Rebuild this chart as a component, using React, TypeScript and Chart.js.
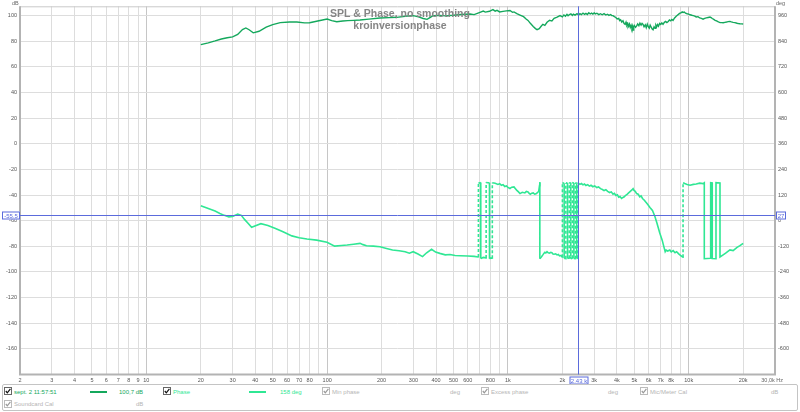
import React, { useEffect, useRef } from "react";
import { Chart, registerables } from "chart.js";

Chart.register(...registerables);

// ---------- DATA ----------
const splFreq = [
  20, 22, 24, 26, 28, 30, 32, 34, 35.5, 37,
  39, 42, 46, 50, 55, 62, 68, 75, 80, 90,
  100, 106, 113, 122, 130, 140, 152, 170, 196, 220,
  243, 270, 299, 320, 340, 357, 372, 385, 420, 450,
  500, 550, 617, 650, 700, 730, 750, 790, 826, 850,
  870, 900, 939, 980, 1026, 1060, 1080, 1120, 1166, 1220,
  1260, 1291, 1330, 1380, 1420, 1449, 1490, 1530, 1560, 1600,
  1645, 1700, 1750, 1800, 1870, 1941, 2000, 2040, 2080, 2120,
  2150, 2190, 2230, 2270, 2300, 2350, 2410, 2460, 2500, 2550,
  2600, 2650, 2700, 2750, 2800, 2850, 2900, 2950, 3000, 3050,
  3105, 3180, 3250, 3320, 3400, 3480, 3550, 3620, 3700, 3750,
  3811, 3880, 3950, 4020, 4100, 4150, 4200, 4260, 4328, 4390,
  4450, 4500, 4550, 4600, 4650, 4700, 4750, 4800, 4850, 4890,
  4922, 4960, 5000, 5080, 5150, 5220, 5300, 5370, 5450, 5520,
  5587, 5660, 5750, 5820, 5900, 5980, 6050, 6120, 6200, 6280,
  6350, 6430, 6507, 6580, 6650, 6720, 6800, 6900, 7000, 7100,
  7206, 7330, 7450, 7570, 7700, 7820, 7950, 8060, 8186, 8350,
  8500, 8650, 8800, 8950, 9100, 9200, 9300, 9450, 9600, 9800,
  10000, 10170, 10400, 10600, 10800, 11000, 11250, 11500, 11750, 12000,
  12250, 12500, 12800, 13100, 13300, 13500, 13750, 14000, 14250, 14500,
  14700, 14900, 15200, 15500, 15850, 16200, 16500, 16900, 17200, 17600,
  18000, 18500, 18800, 19200, 19600, 20000,
];
const splDb = [
  77.4, 78.8, 80.3, 81.8, 82.8, 83.4, 85.3, 89.2, 90.4, 89.0,
  86.6, 87.8, 91.0, 93.0, 94.6, 95.0, 95.1, 94.4, 94.5, 96.0,
  97.4, 96.1, 95.3, 95.8, 96.1, 96.3, 96.6, 97.3, 98.2, 98.5,
  98.7, 99.5, 100.0, 99.0, 97.8, 97.1, 98.6, 100.0, 100.2, 99.8,
  100.3, 100.9, 101.3, 100.8, 102.6, 103.6, 102.8, 103.4, 104.7, 103.5,
  104.1, 102.9, 103.3, 103.7, 104.0, 102.6, 102.9, 101.6, 100.5, 99.2,
  97.4, 96.3, 94.0, 91.6, 89.9, 89.1, 89.8, 91.9, 93.2, 92.4,
  94.8, 96.4, 95.8, 97.9, 98.8, 100.1, 99.0, 100.6, 99.6, 101.0,
  99.9, 100.9, 101.4, 100.2, 101.2, 100.4, 101.5, 100.5, 101.6, 100.8,
  102.0, 101.0, 101.8, 100.9, 102.3, 101.3, 102.0, 101.2, 102.1, 101.4,
  101.9, 100.8, 101.5, 100.7, 101.6, 100.5, 101.1, 100.2, 100.9, 100.1,
  100.0, 99.2, 98.6, 97.4, 97.8, 96.2, 96.8, 95.0, 96.0, 93.9,
  93.2, 94.9, 92.6, 93.8, 91.7, 93.4, 90.8, 92.5, 90.1, 91.8,
  88.8, 91.2, 92.4, 90.9, 92.0, 93.6, 92.1, 94.2, 92.6, 94.0,
  93.2, 91.4, 92.9, 90.6, 93.4, 91.2, 90.2, 92.6, 91.0, 89.6,
  89.0, 91.3, 90.2, 92.6, 91.4, 93.0, 91.8, 93.9, 93.1, 94.4,
  93.2, 94.8, 95.5, 94.6, 95.4, 96.6, 95.9, 97.0, 96.3, 98.2,
  99.4, 100.3, 101.2, 101.9, 102.4, 102.9, 102.5, 102.8, 101.9, 101.5,
  101.2, 100.7, 100.3, 100.0, 99.7, 99.0, 99.2, 98.2, 97.9, 97.3,
  97.9, 98.3, 98.6, 98.9, 98.4, 97.8, 97.1, 96.4, 95.9, 95.3,
  94.9, 94.7, 94.6, 94.5, 94.8, 95.0, 95.3, 95.5, 95.1, 94.8,
  94.6, 94.1, 93.9, 93.7, 93.6, 93.5,
];

const phaseFreq = [
  20, 22, 24, 25.5, 27, 28.6, 30, 32, 33.5, 35,
  36.5, 38.2, 40.5, 43, 47, 51.8, 57, 63.8, 70, 77.3,
  87.5, 99.8, 110, 120, 129, 140, 152, 158, 165, 180,
  196, 213, 230, 250, 270, 285, 299, 318, 337, 355,
  378, 398, 420, 450, 478, 510, 545, 600, 650, 686,
  686.5, 700, 707, 707.5, 730, 757, 757.5, 775, 790, 790.5,
  805, 819, 819.5, 850, 880, 900, 920, 940, 960, 980,
  1000, 1026, 1050, 1080, 1100, 1120, 1140, 1166, 1200, 1240,
  1265, 1291, 1310, 1330, 1355, 1380, 1405, 1430, 1455, 1480,
  1495, 1500, 1501, 1530, 1560, 1580, 1600, 1620, 1645, 1670,
  1700, 1725, 1750, 1775, 1800, 1835, 1870, 1900, 1930, 1965,
  2000, 2001, 2045, 2046, 2090, 2091, 2135, 2136, 2180, 2181,
  2225, 2226, 2270, 2271, 2315, 2316, 2360, 2361, 2400, 2401,
  2430, 2431, 2450, 2500, 2550, 2600, 2650, 2700, 2760, 2820,
  2880, 2950, 3020, 3100, 3170, 3250, 3330, 3400, 3480, 3560,
  3650, 3730, 3811, 3880, 3950, 4030, 4100, 4170, 4250, 4328,
  4400, 4480, 4560, 4650, 4750, 4850, 4922, 4980, 5060, 5150,
  5250, 5360, 5450, 5550, 5680, 5800, 5950, 6100, 6300, 6500,
  6680, 6900, 7130, 7300, 7410, 7500, 7650, 7860, 8000, 8200,
  8400, 8570, 8800, 9000, 9300, 9301, 9500, 9800, 10170, 10600,
  11000, 11500, 12000, 12190, 12191, 13220, 13221, 13490, 13491, 14150,
  14151, 14890, 14891, 15500, 16000, 16900, 17600, 18500, 19200, 20000,
];
const phaseDeg = [
  70, 57, 45, 34, 25, 18, 20, 31, 25, 5,
  -12, -31, -22, -14, -22, -36, -52, -71, -80, -86,
  -91, -101, -119, -116, -114, -110, -106, -112, -117, -119,
  -122, -130, -137, -141, -145, -152, -145, -156, -168, -150,
  -134, -147, -153, -160, -158, -163, -164, -165, -167, -170,
  178, 176, 179, -177, -172, -174, 179, 178, 178, -178,
  -174, -176, 178, 175, 170, 173, 166, 169, 160, 163,
  156, 151, 157, 158, 150, 142, 136, 127, 133, 130,
  137, 135, 128, 124, 129, 130, 124, 126, 131, 138,
  165, 180, -178, -170, -160, -153, -148, -151, -145, -150,
  -152, -148, -150, -156, -157, -155, -160, -158, -165, -163,
  -171, 178, 175, -176, -178, 177, 176, -177, -175, 178,
  177, -178, -176, 179, 176, -177, -178, 178, 175, -177,
  -176, 178, 176, 170, 174, 168, 172, 165, 169, 162,
  166, 159, 163, 155, 158, 150, 146, 141, 145, 137,
  132, 135, 124, 128, 118, 121, 110, 113, 104, 109,
  112, 119, 123, 130, 137, 144, 150, 142, 138, 127,
  124, 112, 116, 104, 96, 86, 75, 62, 48, 20,
  -13, -55, -91, -125, -145, -138, -142, -137, -146, -140,
  -150, -145, -155, -162, -171, 178, 174, 170, 166, 170,
  172, 176, 174, 178, -178, -176, 178, 177, -177, -178,
  178, 177, -170, -160, -152, -137, -140, -125, -117, -106,
];

const xTickValues = [
  2, 3, 4, 5, 6, 7, 8, 9, 10, 20, 30, 40, 50, 60, 70, 80, 90, 100,
  200, 300, 400, 500, 600, 700, 800, 900, 1000,
  2000, 3000, 4000, 5000, 6000, 7000, 8000, 9000, 10000, 20000, 30000,
];
const xTickLabels = [
  "2", "3", "4", "5", "6", "7", "8", "9", "10", "20", "30", "40", "50", "60", "70", "80", "", "100",
  "200", "300", "400", "500", "600", "", "800", "", "1k",
  "2k", "3k", "4k", "5k", "6k", "7k", "8k", "", "10k", "20k", "",
];
const dbTicks = [-180, -160, -140, -120, -100, -80, -60, -40, -20, 0, 20, 40, 60, 80, 100];
const degTicks = [-720, -600, -480, -360, -240, -120, 0, 120, 240, 360, 480, 600, 720, 840, 960];

const dbMin = -180;
const dbMax = 107.3;
const cursorFreq = 2430;
const cursorDb = -55.5;
const cursorLabelX = "2.43 k";
const cursorLabelLeft = "-55.5";
const cursorLabelRight = "27";

const SPL_COLOR = "#14a85c";
const PHASE_COLOR = "#2fe794";
const CURSOR_COLOR = "#5b6bdc";
const TICK_FONT = "5.5px 'Liberation Sans', Arial, sans-serif";

const overlayPlugin = {
  id: "rewOverlay",
  beforeDatasetsDraw(chart: any) {
    const { ctx, chartArea: a } = chart;
    ctx.save();
    ctx.strokeStyle = "#c9c9c9";
    ctx.lineWidth = 1;
    ctx.beginPath();
    ctx.moveTo(a.left, a.top + 0.5);
    ctx.lineTo(a.right, a.top + 0.5);
    ctx.stroke();
    ctx.strokeStyle = "#b3b3b3";
    ctx.lineWidth = 2;
    ctx.beginPath();
    ctx.moveTo(a.left, a.top);
    ctx.lineTo(a.left, a.bottom);
    ctx.lineTo(a.right, a.bottom);
    ctx.lineTo(a.right, a.top);
    ctx.stroke();
    ctx.restore();
  },
  afterDatasetsDraw(chart: any) {
    const { ctx, chartArea: a, scales } = chart;
    const cx = Math.round(scales.x.getPixelForValue(cursorFreq)) + 0.5;
    const cy = Math.round(scales.y.getPixelForValue(cursorDb)) + 0.5;
    ctx.save();
    ctx.strokeStyle = CURSOR_COLOR;
    ctx.lineWidth = 1;
    ctx.beginPath();
    ctx.moveTo(cx, a.top);
    ctx.lineTo(cx, a.bottom);
    ctx.moveTo(a.left, cy);
    ctx.lineTo(a.right, cy);
    ctx.stroke();

    const box = (x: number, y: number, w: number, h: number, text: string) => {
      ctx.fillStyle = "#ffffff";
      ctx.fillRect(x, y, w, h);
      ctx.strokeStyle = CURSOR_COLOR;
      ctx.lineWidth = 1;
      ctx.strokeRect(x + 0.5, y + 0.5, w - 1, h - 1);
      ctx.fillStyle = CURSOR_COLOR;
      ctx.font = "6px 'Liberation Sans', Arial, sans-serif";
      ctx.textAlign = "center";
      ctx.textBaseline = "middle";
      ctx.fillText(text, x + w / 2, y + h / 2 + 0.5);
    };
    box(2, cy - 4, 18, 8, cursorLabelLeft);
    box(a.right + 1, cy - 4, 10, 8, cursorLabelRight);
    box(cx - 9, a.bottom + 2, 19, 8, cursorLabelX);

    ctx.fillStyle = "#666666";
    ctx.font = TICK_FONT;
    ctx.textBaseline = "middle";
    ctx.textAlign = "left";
    ctx.fillText("dB", 12, 3);
    ctx.fillText("deg", 776, 3);
    ctx.textAlign = "right";
    ctx.fillText("30,0k Hz", 783, a.bottom + 6);
    ctx.restore();
  },
};

export default function App() {
  const canvasRef = useRef<HTMLCanvasElement | null>(null);

  useEffect(() => {
    const canvas = canvasRef.current;
    if (!canvas) return;
    const splData = splFreq.map((f, i) => ({ x: f, y: splDb[i] }));
    const phaseData = phaseFreq.map((f, i) => ({ x: f, y: phaseDeg[i] }));
    const decades = [10, 100, 1000, 10000];

    const chart = new Chart(canvas, {
      type: "line",
      data: {
        datasets: [
          {
            label: "SPL",
            data: splData,
            yAxisID: "y",
            borderColor: SPL_COLOR,
            borderWidth: 1.4,
            pointRadius: 0,
            tension: 0,
            fill: false,
          },
          {
            label: "Phase",
            data: phaseData,
            yAxisID: "y2",
            borderColor: PHASE_COLOR,
            borderWidth: 1.6,
            pointRadius: 0,
            tension: 0,
            fill: false,
            segment: {
              borderDash: (c: any) =>
                Math.abs(c.p0.parsed.y - c.p1.parsed.y) > 200 && c.p0.parsed.x < 11000 ? [3, 2] : undefined,
            },
          },
        ],
      },
      options: {
        animation: false,
        responsive: false,
        maintainAspectRatio: false,
        layout: { padding: { top: 5.3, left: 0, right: 0, bottom: 0 } },
        plugins: { legend: { display: false }, tooltip: { enabled: false }, title: { display: false } },
        scales: {
          x: {
            type: "logarithmic",
            min: 2,
            max: 30000,
            afterBuildTicks: (s: any) => {
              s.ticks = xTickValues.map((v) => ({ value: v }));
            },
            afterFit: (s: any) => {
              s.height = 412 - 374.5;
            },
            ticks: {
              autoSkip: false,
              maxRotation: 0,
              minRotation: 0,
              padding: 3,
              color: "#555555",
              font: { family: "'Liberation Sans', Arial, sans-serif", size: 5.5 },
              callback: (v: any) => {
                const i = xTickValues.indexOf(Number(v));
                return i >= 0 ? xTickLabels[i] : "";
              },
            },
            grid: {
              drawTicks: false,
              color: (c: any) => {
                const v = c.tick ? c.tick.value : 0;
                if (v === 2 || v === 30000) return "rgba(0,0,0,0)";
                return decades.includes(v) ? "#c6c6c6" : "#dddddd";
              },
              lineWidth: 1,
            },
            border: { display: false },
          },
          y: {
            type: "linear",
            position: "left",
            min: dbMin,
            max: dbMax,
            afterBuildTicks: (s: any) => {
              s.ticks = dbTicks.map((v) => ({ value: v }));
            },
            afterFit: (s: any) => {
              s.width = 20;
            },
            ticks: {
              padding: 3,
              color: "#555555",
              font: { family: "'Liberation Sans', Arial, sans-serif", size: 5.5 },
              callback: (v: any) => (Number(v) === dbMin ? "" : String(v)),
            },
            grid: {
              drawTicks: false,
              color: (c: any) => (c.tick && c.tick.value === dbMin ? "rgba(0,0,0,0)" : "#dddddd"),
            },
            border: { display: false },
          },
          y2: {
            type: "linear",
            position: "right",
            min: (dbMin + 60) * 6,
            max: (dbMax + 60) * 6,
            afterBuildTicks: (s: any) => {
              s.ticks = degTicks.map((v) => ({ value: v }));
            },
            afterFit: (s: any) => {
              s.width = 25;
            },
            ticks: {
              padding: 3,
              color: "#555555",
              font: { family: "'Liberation Sans', Arial, sans-serif", size: 5.5 },
              callback: (v: any) => (Number(v) === -720 ? "" : String(v)),
            },
            grid: { display: false, drawTicks: false },
            border: { display: false },
          },
        },
      },
      plugins: [overlayPlugin],
    } as any);

    return () => chart.destroy();
  }, []);

  const font = "'Liberation Sans', Arial, sans-serif";
  const cb = (x: number, y: number, active: boolean) => (
    <svg
      style={{ position: "absolute", left: x, top: y }}
      width={8}
      height={8}
      viewBox="0 0 8 8"
    >
      <rect x={0.5} y={0.5} width={7} height={7} fill="#fff" stroke={active ? "#666" : "#bbb"} />
      <polyline points="1.8,4 3.3,5.8 6.4,1.8" fill="none" stroke={active ? "#111" : "#999"} strokeWidth={1.2} />
    </svg>
  );
  const txt = (x: number, y: number, s: string, color: string) => (
    <div
      style={{
        position: "absolute",
        left: x,
        top: y - 4,
        height: 8,
        lineHeight: "8px",
        fontSize: 6,
        fontFamily: font,
        color,
        whiteSpace: "nowrap",
      }}
    >
      {s}
    </div>
  );
  const gray = "#b5b5b5";

  return (
    <div style={{ position: "absolute", left: 0, top: 0, width: 800, height: 412, background: "#fff", overflow: "hidden" }}>
      <canvas ref={canvasRef} width={800} height={412} style={{ position: "absolute", left: 0, top: 0, width: 800, height: 412 }} />
      <div
        style={{
          position: "absolute",
          left: 0,
          top: 7,
          width: 800,
          textAlign: "center",
          fontFamily: font,
          fontWeight: "bold",
          fontSize: 10.5,
          lineHeight: "12px",
          color: "#858585",
          pointerEvents: "none",
        }}
      >
        <div>SPL &amp; Phase, no smoothing</div>
        <div>kroinversionphase</div>
      </div>
      <div
        style={{
          position: "absolute",
          left: 2,
          top: 384,
          width: 794,
          height: 25,
          border: "1px solid #c4c4c4",
          borderRadius: 2,
          background: "#fff",
        }}
      />
      {cb(4, 387, true)}
      {txt(14, 391.5, "sept. 2 11:57:51", SPL_COLOR)}
      <div style={{ position: "absolute", left: 90, top: 391, width: 17, height: 1.5, background: SPL_COLOR }} />
      {txt(119, 391.5, "100,7 dB", SPL_COLOR)}
      {cb(163, 387, true)}
      {txt(173, 391.5, "Phase", PHASE_COLOR)}
      <div style={{ position: "absolute", left: 249, top: 391, width: 17, height: 1.5, background: PHASE_COLOR }} />
      {txt(280, 391.5, "158 deg", PHASE_COLOR)}
      {cb(322, 387, false)}
      {txt(332, 391.5, "Min phase", gray)}
      {txt(450, 391.5, "deg", gray)}
      {cb(481, 387, false)}
      {txt(491, 391.5, "Excess phase", gray)}
      {txt(608, 391.5, "deg", gray)}
      {cb(640, 387, false)}
      {txt(650, 391.5, "Mic/Meter Cal", gray)}
      {txt(771, 391.5, "dB", gray)}
      {cb(4, 400, false)}
      {txt(14, 404, "Soundcard Cal", gray)}
      {txt(136, 404, "dB", gray)}
    </div>
  );
}
